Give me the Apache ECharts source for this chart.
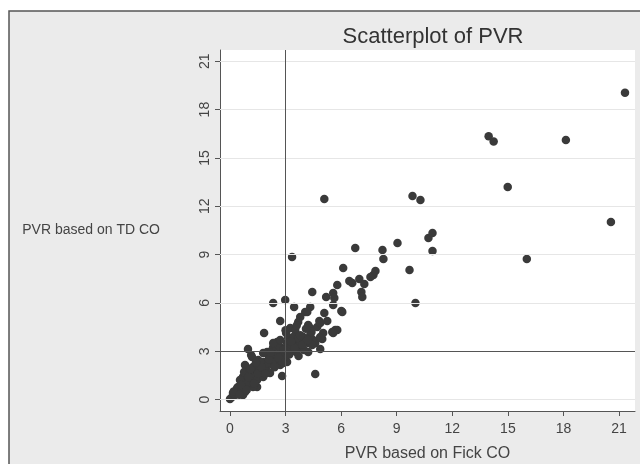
<!DOCTYPE html>
<html><head><meta charset="utf-8">
<script src="https://cdn.jsdelivr.net/npm/echarts@6/dist/echarts.min.js"></script>
<style>html,body{margin:0;padding:0;background:#fff}#c{width:640px;height:464px}</style>
</head><body><div id="c"></div><script>
// PVR based on Fick CO (x) and PVR based on TD CO (y)
const fickCO = [21.32,13.96,14.23,18.13,14.99,20.56,16.02,5.09,9.85,10.28,10.71,10.93,10.93,9.69,10.01,9.04,8.23,8.28,6.76,3.35,4.60,
6.11,6.44,6.60,6.98,7.25,7.58,7.74,7.85,7.09,7.14,6.06,5.79,5.19,5.57,5.63,5.57,6.01,2.33,2.98,3.46,4.44,5.09,4.33,4.06,3.79,2.71,4.82,5.25,3.68,
1.84,3.25,3.52,4.33,4.87,5.68,5.79,5.52,4.87,4.22,4.71,4.98,5.03,4.60,4.22,4.49,3.79,3.52,4.06,3.14,3.08,2.71,2.54,2.33,2.00,0.97,1.14,1.52,1.79,2.06,
2.44,2.71,3.08,3.41,3.08,2.71,2.81,2.87,0.92,0.70,0.65,1.08,1.24,1.46,1.73,1.89,1.46,0.92,0.54,0.38,0.11,0.00,0.27,0.81,1.08,1.35,1.24,1.52,0.43,0.70,
1.19,0.81,0.76,0.54,0.38,0.16,1.62,1.46,1.24,2.00,2.33,2.71,2.60,2.87,2.16,1.79,3.08,3.41,3.25,2.27,2.06,1.62,1.08,0.92,0.70,1.79,2.33,2.71,
3.57,3.79,3.95,3.68,3.35,4.00,4.33,4.44,3.79,4.22,4.87,4.17,3.03,4.87,5.57,
0.20,0.50,0.60,0.90,1.00,1.30,1.10,1.50,1.70,1.90,2.10,2.40,2.50,2.80,2.90,3.20,3.50,3.70,3.90,4.20,4.40,4.10,3.60,2.60,2.20,1.40,3.30,3.00];
const tdCO = [19.04,16.34,16.02,16.12,13.20,11.03,8.73,12.45,12.64,12.39,10.03,10.34,9.22,8.04,5.99,9.72,9.29,8.73,9.41,8.85,1.58,
8.17,7.36,7.24,7.48,7.17,7.61,7.73,7.98,6.68,6.37,5.43,7.11,6.37,6.61,6.30,5.87,5.50,5.99,6.18,5.75,6.68,5.37,5.75,5.43,5.12,4.88,4.88,4.88,4.81,
4.13,4.44,4.32,4.44,3.88,4.32,4.32,4.19,3.14,2.95,4.50,3.76,4.13,3.51,3.51,3.70,3.26,3.51,3.57,3.82,3.26,3.26,3.57,3.26,2.95,3.14,2.76,2.45,2.33,2.14,
2.45,2.64,2.76,3.07,2.33,2.14,1.46,2.58,1.96,1.40,1.21,1.65,1.21,1.83,1.52,1.83,0.78,0.90,0.59,0.40,0.16,0.03,0.28,0.47,1.02,1.40,2.02,2.14,0.78,0.28,
2.64,2.14,1.71,1.21,0.71,0.40,1.83,1.21,0.78,2.27,2.45,2.89,3.26,2.27,1.65,1.40,3.51,3.88,3.07,3.07,2.76,2.33,1.83,1.02,0.59,2.89,3.51,3.70,
2.95,3.51,3.88,3.82,3.39,3.07,4.00,3.39,4.00,4.63,4.75,5.43,4.13,3.82,4.13,
0.50,0.30,0.90,0.60,1.40,1.00,1.90,1.60,2.00,1.60,2.50,2.00,2.80,2.40,3.10,2.80,3.20,2.70,3.40,3.70,4.20,4.40,4.60,2.60,2.90,2.30,3.60,4.30];
const tickValues = [0,3,6,9,12,15,18,21];
const gridValues = [0,3,6,9,12,15,18,21];
const refX = 3, refY = 3;

const points = fickCO.map((v,i)=>[v, tdCO[i]]);
const chart = echarts.init(document.getElementById('c'), null, {renderer:'canvas'});
const font = 'Liberation Sans, Arial, sans-serif';
const axisCommon = {
  type:'value',
  axisLine:{show:true, onZero:false, lineStyle:{color:'#555', width:1}},
  axisTick:{show:true, customValues:tickValues, length:5, lineStyle:{color:'#555'}},
  axisLabel:{customValues:tickValues, fontSize:14, color:'#444', fontFamily:font},
  splitLine:{show:false}
};
chart.setOption({
  backgroundColor:'#fff',
  animation:false,
  title:{text:'Scatterplot of PVR', left:428, top:21, textAlign:'center',
    textStyle:{fontSize:22, fontWeight:'normal', color:'#333', fontFamily:font}},
  graphic:[{type:'rect', silent:true, z:-100, shape:{x:9,y:11,width:700,height:500},
    style:{fill:'#ebebeb', stroke:'#555', lineWidth:1.5}}],
  grid:{left:220, right:5, top:50, bottom:53, show:true, backgroundColor:'#fff', borderWidth:0,
    containLabel:false, outerBoundsMode:'none'},
  xAxis:Object.assign({}, axisCommon, {min:-0.54, max:21.86,
    axisLabel:Object.assign({}, axisCommon.axisLabel, {margin:11}),
    name:'PVR based on Fick CO', nameLocation:'middle', nameGap:35,
    nameTextStyle:{fontSize:16, color:'#444', fontFamily:font}}),
  yAxis:Object.assign({}, axisCommon, {min:-0.71, max:21.7,
    axisLabel:Object.assign({}, axisCommon.axisLabel, {rotate:90, margin:8}),
    name:'PVR based on TD CO', nameLocation:'middle', nameRotate:0, nameGap:60,
    nameTextStyle:{fontSize:14, color:'#444', fontFamily:font}}),
  series:[
    {type:'scatter', data:[], z:1, silent:true,
     markLine:{silent:true, symbol:'none', animation:false, label:{show:false},
       data:gridValues.map(v=>({yAxis:v, lineStyle:{color:'#e6e6e6', width:1, type:'solid'}}))
         .concat([{xAxis:refX, lineStyle:{color:'#555', width:1, type:'solid'}},
                  {yAxis:refY, lineStyle:{color:'#555', width:1, type:'solid'}}])}},
    {type:'scatter', data:points, z:3, symbol:'circle', symbolSize:8.5,
     itemStyle:{color:'#3a3a3a', opacity:1}}
  ]
});
</script></body></html>
